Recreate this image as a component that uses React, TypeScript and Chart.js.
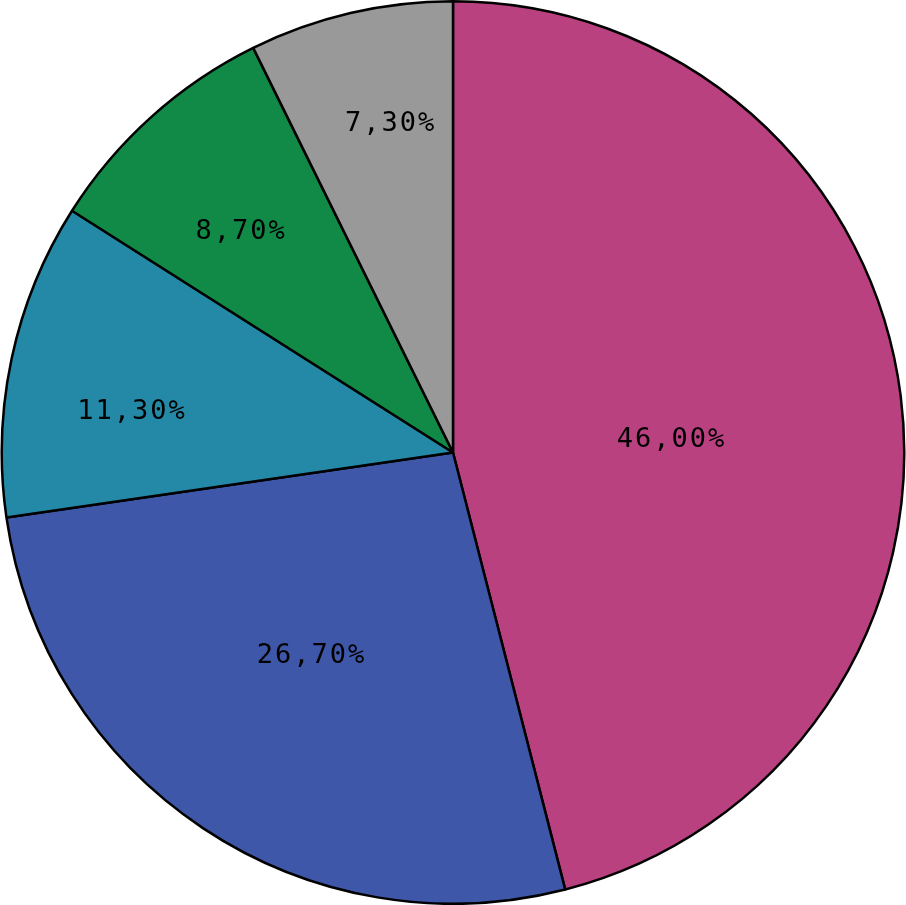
import React, { useEffect, useRef } from "react";
import { Chart, registerables } from "chart.js";

Chart.register(...registerables);

const categories = ["A", "B", "C", "D", "E"];
const values = [46.0, 26.7, 11.3, 8.7, 7.3];
const labels = ["46,00%", "26,70%", "11,30%", "8,70%", "7,30%"];
const colors = ["#B94180", "#3F57A9", "#2389A7", "#128A47", "#999999"];
const labelRadius = [0.483, 0.547, 0.72, 0.682, 0.746];
const labelAngleShift = [3.3, 1.6, -4.5, -1.8, 2.3];

const labelPlugin = {
  id: "sliceLabels",
  afterDatasetsDraw(chart: any) {
    const ctx = chart.ctx;
    const meta = chart.getDatasetMeta(0);
    ctx.save();
    ctx.font = "27px 'DejaVu Sans Mono'";
    (ctx as any).letterSpacing = "2px";
    ctx.fillStyle = "#000000";
    ctx.textAlign = "center";
    ctx.textBaseline = "middle";
    meta.data.forEach((arc: any, i: number) => {
      const p = arc.getProps(["x", "y", "startAngle", "endAngle", "outerRadius"], true);
      const mid = (p.startAngle + p.endAngle) / 2 + (labelAngleShift[i] * Math.PI) / 180;
      const r = p.outerRadius * labelRadius[i];
      const x = p.x + Math.cos(mid) * r;
      const y = p.y + Math.sin(mid) * r;
      ctx.fillText(labels[i], x + 1, y + 2);
    });
    ctx.restore();
  },
};

export default function App() {
  const ref = useRef<HTMLCanvasElement>(null);
  useEffect(() => {
    if (!ref.current) return;
    const chart = new Chart(ref.current, {
      type: "pie",
      data: {
        labels: categories,
        datasets: [
          {
            data: values,
            backgroundColor: colors,
            borderColor: "#000000",
            borderWidth: 2.5,
          },
        ],
      },
      options: {
        responsive: false,
        animation: false,
        layout: { padding: 0 },
        plugins: {
          legend: { display: false },
          tooltip: { enabled: false },
        },
      },
      plugins: [labelPlugin],
    });
    return () => chart.destroy();
  }, []);
  return (
    <div style={{ position: "absolute", left: 0, top: 0, width: 906, height: 905, background: "#ffffff" }}>
      <canvas ref={ref} width={906} height={905} style={{ display: "block", width: 906, height: 905 }} />
    </div>
  );
}
